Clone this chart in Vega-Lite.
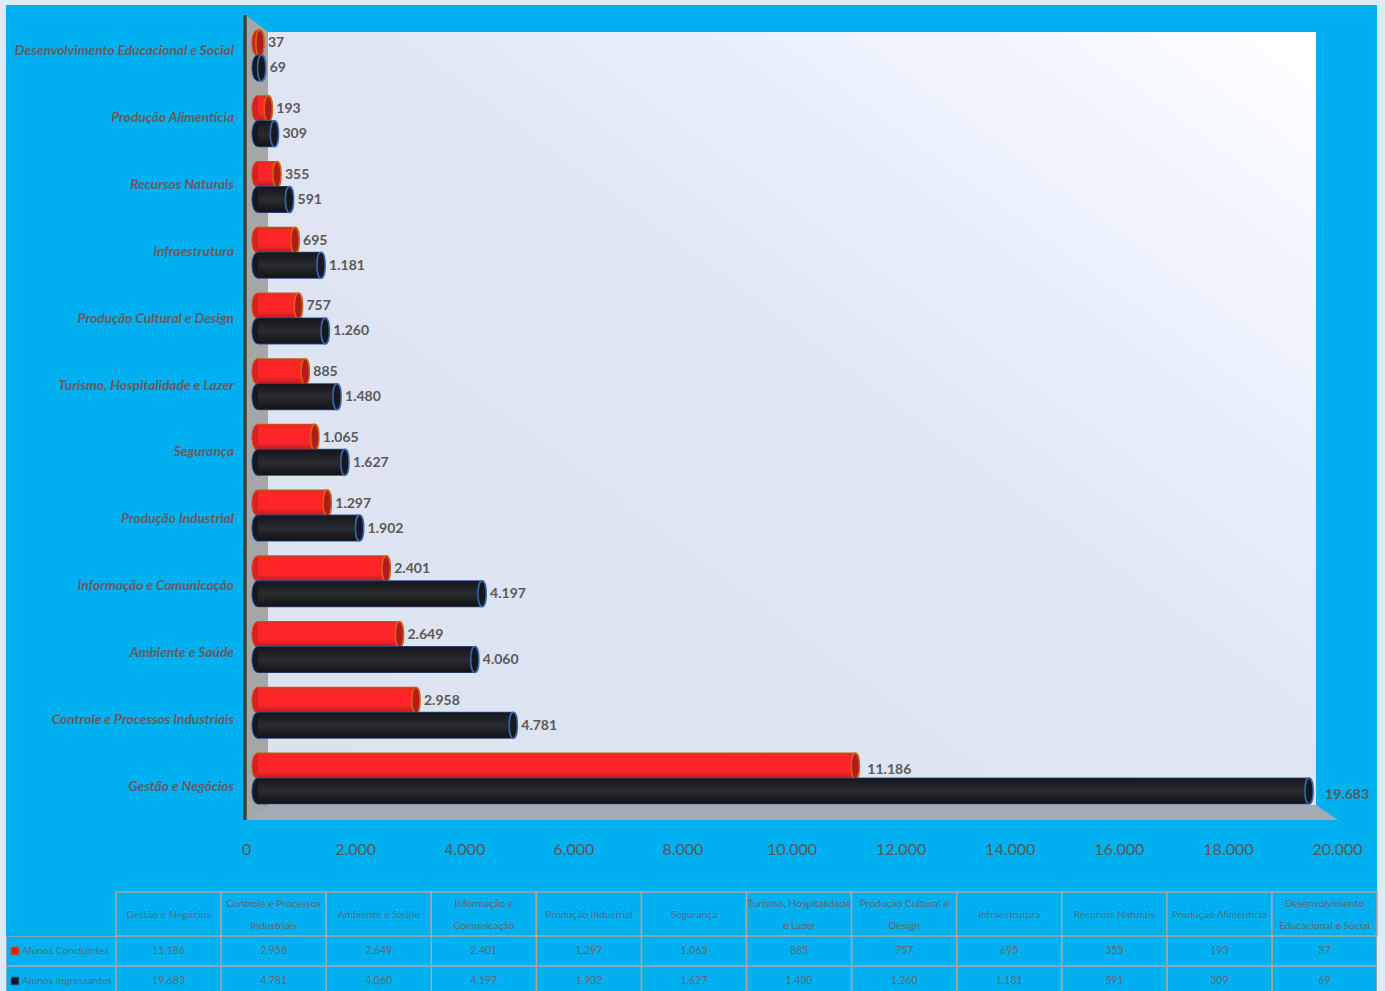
{"$schema":"https://vega.github.io/schema/vega-lite/v6.json","background":"#DEEAF6","padding":{"left":6,"top":5,"right":8,"bottom":0},"bounds":"flush","spacing":0,"config":{"view":{"stroke":null,"fill":"#00B0F0"},"locale":{"number":{"decimal":",","thousands":".","grouping":[3],"currency":["R$",""]}}},"datasets":{"alunos":[{"curso":"Desenvolvimento Educacional e Social","serie":"Alunos Concluintes","alunos":37},{"curso":"Desenvolvimento Educacional e Social","serie":"Alunos Ingressantes","alunos":69},{"curso":"Produção Alimentícia","serie":"Alunos Concluintes","alunos":193},{"curso":"Produção Alimentícia","serie":"Alunos Ingressantes","alunos":309},{"curso":"Recursos Naturais","serie":"Alunos Concluintes","alunos":355},{"curso":"Recursos Naturais","serie":"Alunos Ingressantes","alunos":591},{"curso":"Infraestrutura","serie":"Alunos Concluintes","alunos":695},{"curso":"Infraestrutura","serie":"Alunos Ingressantes","alunos":1181},{"curso":"Produção Cultural e Design","serie":"Alunos Concluintes","alunos":757},{"curso":"Produção Cultural e Design","serie":"Alunos Ingressantes","alunos":1260},{"curso":"Turismo, Hospitalidade e Lazer","serie":"Alunos Concluintes","alunos":885},{"curso":"Turismo, Hospitalidade e Lazer","serie":"Alunos Ingressantes","alunos":1480},{"curso":"Segurança","serie":"Alunos Concluintes","alunos":1065},{"curso":"Segurança","serie":"Alunos Ingressantes","alunos":1627},{"curso":"Produção Industrial","serie":"Alunos Concluintes","alunos":1297},{"curso":"Produção Industrial","serie":"Alunos Ingressantes","alunos":1902},{"curso":"Informação e Comunicação","serie":"Alunos Concluintes","alunos":2401},{"curso":"Informação e Comunicação","serie":"Alunos Ingressantes","alunos":4197},{"curso":"Ambiente e Saúde","serie":"Alunos Concluintes","alunos":2649},{"curso":"Ambiente e Saúde","serie":"Alunos Ingressantes","alunos":4060},{"curso":"Controle e Processos Industriais","serie":"Alunos Concluintes","alunos":2958},{"curso":"Controle e Processos Industriais","serie":"Alunos Ingressantes","alunos":4781},{"curso":"Gestão e Negócios","serie":"Alunos Concluintes","alunos":11186},{"curso":"Gestão e Negócios","serie":"Alunos Ingressantes","alunos":19683}],"cursos":[{"curso":"Gestão e Negócios","rotulo":"Gestão e Negócios"},{"curso":"Controle e Processos Industriais","rotulo":"Controle e Processos\nIndustriais"},{"curso":"Ambiente e Saúde","rotulo":"Ambiente e Saúde"},{"curso":"Informação e Comunicação","rotulo":"Informação e\nComunicação"},{"curso":"Produção Industrial","rotulo":"Produção Industrial"},{"curso":"Segurança","rotulo":"Segurança"},{"curso":"Turismo, Hospitalidade e Lazer","rotulo":"Turismo, Hospitalidade\ne Lazer"},{"curso":"Produção Cultural e Design","rotulo":"Produção Cultural e\nDesign"},{"curso":"Infraestrutura","rotulo":"Infraestrutura"},{"curso":"Recursos Naturais","rotulo":"Recursos Naturais"},{"curso":"Produção Alimentícia","rotulo":"Produção Alimentícia"},{"curso":"Desenvolvimento Educacional e Social","rotulo":"Desenvolvimento\nEducacional e Social"}],"lateral":[{"nivel":1.13,"ini":0,"fim":0},{"nivel":3.04,"ini":0,"fim":403},{"nivel":90.19,"ini":0,"fim":403},{"nivel":91.88,"ini":0,"fim":0}],"piso":[{"pos":0,"topo":91.88,"base":91.88},{"pos":403,"topo":90.19,"base":91.88},{"pos":19615,"topo":90.19,"base":91.88},{"pos":20018,"topo":91.88,"base":91.88}]},"vconcat":[{"width":1371,"height":887,"view":{"fill":"#00B0F0","stroke":null},"resolve":{"scale":{"x":"independent","y":"independent"}},"layer":[{"resolve":{"scale":{"x":"shared","y":"shared"}},"layer":[{"data":{"values":[{}]},"mark":{"type":"rect","fill":{"gradient":"linear","x1":0,"y1":1,"x2":1,"y2":0,"stops":[{"offset":0,"color":"#DBE2F0"},{"offset":0.5,"color":"#DFE5F3"},{"offset":0.7,"color":"#E8EFFC"},{"offset":0.85,"color":"#F2F6FE"},{"offset":1,"color":"#FFFFFF"}]}},"encoding":{"x":{"datum":403,"type":"quantitative","scale":{"domain":[-4400,20733],"nice":false,"zero":false},"axis":{"values":[0,2000,4000,6000,8000,10000,12000,14000,16000,18000,20000],"labelExpr":"format(datum.value,',')","title":null,"domain":false,"ticks":false,"grid":false,"offset":-51,"labelPadding":0,"labelFont":"Lato","labelFontSize":16,"labelColor":"#595959","labelFlush":false,"labelOverlap":false}},"x2":{"datum":19615},"y":{"datum":3.04,"type":"quantitative","scale":{"domain":[0,100],"reverse":true,"nice":false,"zero":false},"axis":null},"y2":{"datum":90.19}}},{"data":{"name":"lateral"},"mark":{"type":"area","orient":"horizontal","fill":"#A6A6A6"},"encoding":{"y":{"field":"nivel","type":"quantitative"},"x":{"field":"ini","type":"quantitative"},"x2":{"field":"fim"}}},{"data":{"name":"piso"},"mark":{"type":"area","orient":"vertical","fill":"#A5ABB5"},"encoding":{"x":{"field":"pos","type":"quantitative"},"y":{"field":"topo","type":"quantitative"},"y2":{"field":"base"}}},{"data":{"values":[{}]},"mark":{"type":"rule","stroke":"#404040","strokeWidth":3.5},"encoding":{"x":{"datum":-18,"type":"quantitative"},"y":{"datum":1.13,"type":"quantitative"},"y2":{"datum":91.88}}}]},{"data":{"name":"alunos"},"resolve":{"scale":{"x":"shared","y":"shared"}},"encoding":{"y":{"field":"curso","type":"nominal","scale":{"domain":["Desenvolvimento Educacional e Social","Produção Alimentícia","Recursos Naturais","Infraestrutura","Produção Cultural e Design","Turismo, Hospitalidade e Lazer","Segurança","Produção Industrial","Informação e Comunicação","Ambiente e Saúde","Controle e Processos Industriais","Gestão e Negócios"],"range":[17.6,806.4],"paddingInner":0,"paddingOuter":0},"axis":null},"x":{"field":"alunos","type":"quantitative","stack":null,"scale":{"domain":[-4719,20955],"nice":false,"zero":false},"axis":null}},"layer":[{"transform":[{"filter":"datum.serie==='Alunos Concluintes'"}],"mark":{"type":"point","filled":true,"size":676,"opacity":1,"yOffset":-12.5,"shape":"M0,-1C0.62,-1 0.62,1 0,1C-0.62,1 -0.62,-1 0,-1Z","fill":"#D81F24","stroke":"#C55A11","strokeWidth":1},"encoding":{"x":{"datum":0,"type":"quantitative"}}},{"transform":[{"filter":"datum.serie==='Alunos Concluintes'"}],"mark":{"type":"bar","size":27,"yOffset":-12.5,"fill":{"gradient":"linear","x1":0,"y1":0,"x2":0,"y2":1,"stops":[{"offset":0,"color":"#C55A11"},{"offset":0.06,"color":"#E0301E"},{"offset":0.18,"color":"#FF2428"},{"offset":0.7,"color":"#FF2428"},{"offset":0.95,"color":"#B81C20"},{"offset":1,"color":"#C55A11"}]}}},{"transform":[{"filter":"datum.serie==='Alunos Concluintes'"}],"mark":{"type":"point","filled":true,"size":676,"opacity":1,"yOffset":-12.5,"shape":"M0,-1C0.42,-1 0.42,1 0,1C-0.42,1 -0.42,-1 0,-1Z","fill":"#B01C1C","stroke":"#D2640F","strokeWidth":1.5}},{"transform":[{"filter":"datum.serie==='Alunos Ingressantes'"}],"mark":{"type":"point","filled":true,"size":676,"opacity":1,"yOffset":12.5,"shape":"M0,-1C0.62,-1 0.62,1 0,1C-0.62,1 -0.62,-1 0,-1Z","fill":"#15181E","stroke":"#2F5597","strokeWidth":1},"encoding":{"x":{"datum":0,"type":"quantitative"}}},{"transform":[{"filter":"datum.serie==='Alunos Ingressantes'"}],"mark":{"type":"bar","size":27,"yOffset":12.5,"fill":{"gradient":"linear","x1":0,"y1":0,"x2":0,"y2":1,"stops":[{"offset":0,"color":"#2F5597"},{"offset":0.05,"color":"#15171B"},{"offset":0.5,"color":"#2A2B2E"},{"offset":0.95,"color":"#121418"},{"offset":1,"color":"#2F5597"}]}}},{"transform":[{"filter":"datum.serie==='Alunos Ingressantes'"}],"mark":{"type":"point","filled":true,"size":676,"opacity":1,"yOffset":12.5,"shape":"M0,-1C0.42,-1 0.42,1 0,1C-0.42,1 -0.42,-1 0,-1Z","fill":"#15181E","stroke":"#3A66B0","strokeWidth":1.5}},{"transform":[{"filter":"datum.serie==='Alunos Concluintes' && datum.alunos<10000"}],"mark":{"type":"text","align":"left","baseline":"middle","dx":8,"yOffset":-12,"font":"Lato","fontWeight":"bold","fontSize":14,"fill":"#595959"},"encoding":{"text":{"field":"alunos","type":"quantitative","format":","}}},{"transform":[{"filter":"datum.serie==='Alunos Ingressantes' && datum.alunos<10000"}],"mark":{"type":"text","align":"left","baseline":"middle","dx":8,"yOffset":13,"font":"Lato","fontWeight":"bold","fontSize":14,"fill":"#595959"},"encoding":{"text":{"field":"alunos","type":"quantitative","format":","}}},{"transform":[{"filter":"datum.serie==='Alunos Concluintes' && datum.alunos>=10000"}],"mark":{"type":"text","align":"left","baseline":"middle","dx":12,"yOffset":-8.5,"font":"Lato","fontWeight":"bold","fontSize":14,"fill":"#595959"},"encoding":{"text":{"field":"alunos","type":"quantitative","format":","}}},{"transform":[{"filter":"datum.serie==='Alunos Ingressantes' && datum.alunos>=10000"}],"mark":{"type":"text","align":"left","baseline":"middle","dx":16,"yOffset":16.5,"font":"Lato","fontWeight":"bold","fontSize":14,"fill":"#595959"},"encoding":{"text":{"field":"alunos","type":"quantitative","format":","}}}]},{"data":{"name":"cursos"},"mark":{"type":"text","align":"right","baseline":"middle","dx":-12,"yOffset":1,"font":"Lato","fontStyle":"italic","fontWeight":"bold","fontSize":13.7,"fill":"#6A5A60"},"encoding":{"x":{"datum":0,"type":"quantitative","scale":{"domain":[-4400,20733],"nice":false,"zero":false},"axis":null},"y":{"field":"curso","type":"nominal","scale":{"domain":["Desenvolvimento Educacional e Social","Produção Alimentícia","Recursos Naturais","Infraestrutura","Produção Cultural e Design","Turismo, Hospitalidade e Lazer","Segurança","Produção Industrial","Informação e Comunicação","Ambiente e Saúde","Controle e Processos Industriais","Gestão e Negócios"],"range":[11.5,814.5],"paddingInner":0,"paddingOuter":0},"axis":null},"text":{"field":"curso","type":"nominal"}}}]},{"width":1371,"height":44,"view":{"fill":"#00B0F0","stroke":null},"data":{"name":"cursos"},"encoding":{"x":{"field":"curso","type":"nominal","sort":null,"scale":{"domain":["Gestão e Negócios","Controle e Processos Industriais","Ambiente e Saúde","Informação e Comunicação","Produção Industrial","Segurança","Turismo, Hospitalidade e Lazer","Produção Cultural e Design","Infraestrutura","Recursos Naturais","Produção Alimentícia","Desenvolvimento Educacional e Social"],"range":[110,1371],"paddingInner":0,"paddingOuter":0},"axis":null}},"layer":[{"mark":{"type":"rect","fill":"#00B0F0","stroke":"#A6A6A6","strokeWidth":1.5}},{"transform":[{"filter":"indexof(datum.rotulo,'\\n')<0"}],"mark":{"type":"text","yOffset":0.5,"font":"Lato","fontSize":10.3,"fill":"#5F6A75"},"encoding":{"text":{"field":"rotulo","type":"nominal"}}},{"transform":[{"filter":"indexof(datum.rotulo,'\\n')>=0"}],"mark":{"type":"text","lineBreak":"\n","lineHeight":22,"yOffset":-10.5,"font":"Lato","fontSize":10.3,"fill":"#5F6A75"},"encoding":{"text":{"field":"rotulo","type":"nominal"}}}]},{"hconcat":[{"width":110,"height":55,"view":{"fill":"#00B0F0","stroke":null},"data":{"values":[{"serie":"Alunos Concluintes"},{"serie":"Alunos Ingressantes"}]},"encoding":{"y":{"field":"serie","type":"nominal","scale":{"domain":["Alunos Concluintes","Alunos Ingressantes"],"range":[0,60],"paddingInner":0,"paddingOuter":0},"axis":null}},"layer":[{"mark":{"type":"rect","clip":true,"fill":"#00B0F0","stroke":"#A6A6A6","strokeWidth":1.5}},{"mark":{"type":"point","shape":"square","filled":true,"opacity":1,"size":60,"clip":true,"strokeWidth":1},"encoding":{"x":{"datum":9,"type":"quantitative","scale":{"domain":[0,110],"nice":false,"zero":false},"axis":null},"fill":{"field":"serie","type":"nominal","scale":{"domain":["Alunos Concluintes","Alunos Ingressantes"],"range":["#D9201A","#0A1A24"]},"legend":null},"stroke":{"field":"serie","type":"nominal","scale":{"domain":["Alunos Concluintes","Alunos Ingressantes"],"range":["#C55A11","#2F5597"]},"legend":null}}},{"mark":{"type":"text","align":"left","clip":true,"font":"Lato","fontSize":10.3,"fill":"#5F6A75"},"encoding":{"x":{"datum":16,"type":"quantitative"},"text":{"field":"serie","type":"nominal"}}}]},{"width":1261,"height":55,"view":{"fill":"#00B0F0","stroke":null},"data":{"name":"alunos"},"encoding":{"x":{"field":"curso","type":"nominal","scale":{"domain":["Gestão e Negócios","Controle e Processos Industriais","Ambiente e Saúde","Informação e Comunicação","Produção Industrial","Segurança","Turismo, Hospitalidade e Lazer","Produção Cultural e Design","Infraestrutura","Recursos Naturais","Produção Alimentícia","Desenvolvimento Educacional e Social"],"paddingInner":0,"paddingOuter":0},"axis":null},"y":{"field":"serie","type":"nominal","scale":{"domain":["Alunos Concluintes","Alunos Ingressantes"],"range":[0,60],"paddingInner":0,"paddingOuter":0},"axis":null}},"layer":[{"mark":{"type":"rect","clip":true,"fill":"#00B0F0","stroke":"#A6A6A6","strokeWidth":1.5}},{"mark":{"type":"text","clip":true,"font":"Lato","fontSize":10.5,"fill":"#5F6A75"},"encoding":{"text":{"field":"alunos","type":"quantitative","format":","}}}]}],"spacing":0,"bounds":"flush"}]}
